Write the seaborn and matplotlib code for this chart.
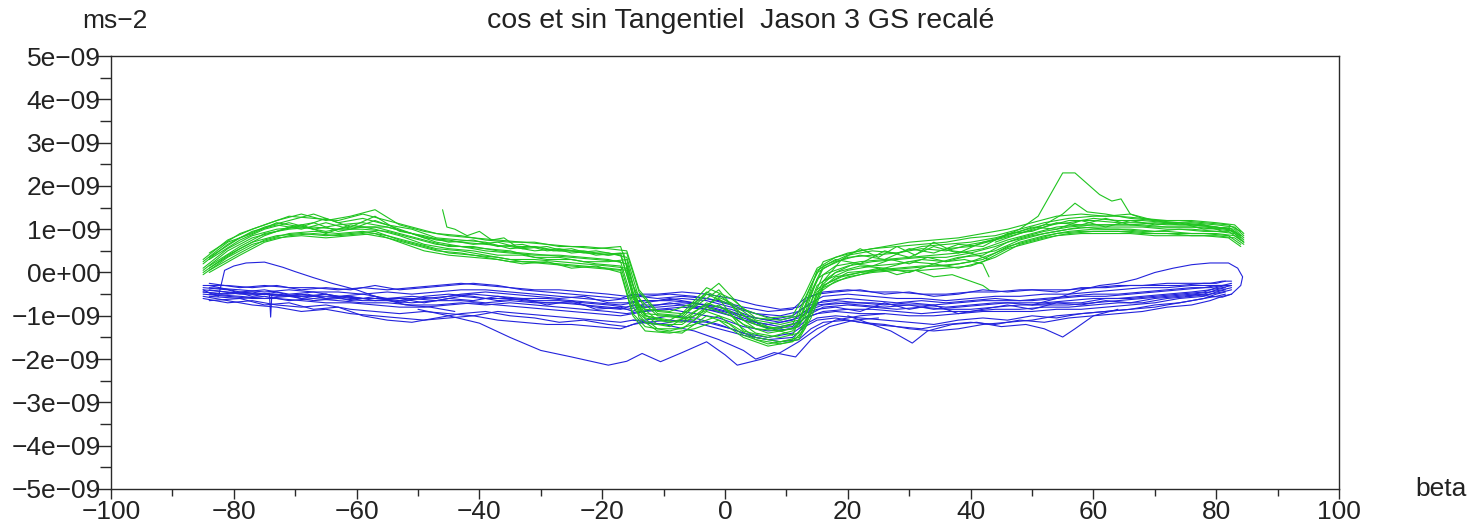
import numpy as np
import pandas as pd
import matplotlib
matplotlib.use("Agg")
import matplotlib.pyplot as plt
from matplotlib.ticker import MultipleLocator, FuncFormatter
import seaborn as sns

# ---------------- data (values in units of 1e-9 m/s^2) ----------------
XG_A = [-85, -81, -77, -73, -69, -65, -61, -57, -53, -49, -45, -41, -37, -33, -29, -25, -21, -17, -15, -13,
        -9, -5, -1, 3, 7, 11, 13, 15, 18, 22, 26, 30, 34, 38, 42, 46, 50, 54, 58, 62, 66, 70, 74, 78, 82, 84]
XG_B = [-84, -79, -75, -71, -67, -63, -59, -55, -51, -47, -43, -39, -35, -31, -27, -23, -19, -16, -14, -11,
        -7, -3, 1, 5, 9, 12, 14, 16, 20, 24, 28, 32, 36, 40, 44, 48, 52, 56, 60, 64, 68, 72, 76, 80, 83, 84.5]
XB_A = [-85, -81, -77, -73, -69, -65, -61, -57, -53, -49, -45, -41, -37, -33, -29, -25, -21, -17, -15, -13,
        -9, -5, -1, 3, 7, 11, 13, 15, 18, 22, 26, 30, 34, 38, 42, 46, 50, 54, 58, 62, 66, 70, 74, 78, 80, 81.5]
XB_B = [-84, -79, -75, -71, -67, -63, -59, -55, -51, -47, -43, -39, -35, -31, -27, -23, -19, -16, -14, -11,
        -7, -3, 1, 5, 9, 12, 14, 16, 20, 24, 28, 32, 36, 40, 44, 48, 52, 56, 60, 64, 68, 72, 76, 79, 81, 82.5]

# green (sin) curves
GA1 = [0.3, 0.75, 1.0, 1.2, 1.35, 1.2, 1.3, 1.45, 1.1, 0.95, 0.85, 0.8, 0.75, 0.7, 0.65, 0.6, 0.55, 0.6, -0.3, -0.85,
       -0.9, -0.7, -0.25, -0.85, -1.05, -1.0, -0.5, 0.1, 0.35, 0.5, 0.6, 0.7, 0.75, 0.8, 0.9, 1.0, 1.15, 1.3, 1.35, 1.3,
       1.35, 1.2, 1.2, 1.15, 1.1, 0.95]
GA2 = [0.1, 0.55, 0.85, 1.0, 1.05, 0.95, 1.05, 1.05, 0.9, 0.75, 0.6, 0.6, 0.5, 0.45, 0.4, 0.35, 0.3, 0.25, -0.7, -1.05,
       -1.15, -1.0, -0.75, -1.2, -1.4, -1.3, -0.95, -0.15, 0.15, 0.25, 0.3, 0.35, 0.4, 0.45, 0.55, 0.75, 0.9, 1.05, 1.1,
       1.1, 1.1, 1.05, 1.05, 1.05, 1.0, 0.8]
GA3 = [0.0, 0.4, 0.7, 0.85, 0.9, 0.85, 0.9, 0.95, 0.75, 0.6, 0.45, 0.4, 0.35, 0.25, 0.2, 0.15, 0.1, 0.05, -0.95, -1.25,
       -1.35, -1.2, -1.0, -1.45, -1.65, -1.55, -1.2, -0.45, -0.1, 0.0, 0.05, 0.1, 0.15, 0.2, 0.3, 0.6, 0.75, 0.9, 0.95,
       0.95, 0.95, 0.9, 0.9, 0.9, 0.85, 0.65]
GA4 = [0.2, 0.65, 0.95, 1.1, 1.0, 1.15, 1.0, 1.2, 1.0, 0.8, 0.75, 0.65, 0.7, 0.55, 0.6, 0.45, 0.5, 0.4, -0.5, -0.95,
       -1.0, -1.1, -0.5, -1.0, -1.25, -1.45, -0.8, 0.05, 0.3, 0.2, 0.5, 0.35, 0.6, 0.45, 0.7, 0.85, 1.05, 1.0, 1.2, 1.05,
       1.2, 1.1, 1.15, 1.0, 1.05, 0.85]
GA5 = [0.05, 0.5, 0.8, 0.95, 1.1, 0.9, 1.1, 1.0, 0.85, 0.65, 0.55, 0.5, 0.4, 0.4, 0.3, 0.3, 0.2, 0.15, -0.8, -1.15,
       -1.25, -0.9, -0.6, -1.35, -1.5, -1.35, -1.05, -0.3, 0.0, 0.15, 0.1, 0.25, 0.2, 0.35, 0.4, 0.7, 0.85, 0.95, 1.05,
       1.0, 1.0, 0.95, 1.0, 0.95, 0.95, 0.75]
GA6 = [0.25, 0.7, 0.9, 1.15, 1.05, 1.25, 1.05, 1.3, 0.95, 0.85, 0.7, 0.75, 0.6, 0.65, 0.5, 0.55, 0.4, 0.45, -0.55, -1.0,
       -1.1, -0.8, -0.4, -1.1, -1.3, -1.2, -0.6, 0.0, 0.25, 0.4, 0.3, 0.55, 0.45, 0.65, 0.6, 0.9, 0.95, 1.15, 1.1, 1.25,
       1.1, 1.15, 1.1, 1.1, 1.0, 0.85]
GA7 = [-0.05, 0.35, 0.65, 0.8, 0.85, 0.8, 0.85, 0.9, 0.7, 0.5, 0.4, 0.35, 0.3, 0.2, 0.25, 0.1, 0.15, 0.0, -1.0, -1.35,
       -1.4, -1.3, -1.1, -1.5, -1.7, -1.6, -1.3, -0.5, -0.2, -0.05, 0.1, 0.0, 0.2, 0.1, 0.25, 0.55, 0.7, 0.85, 0.9, 0.9,
       0.9, 0.85, 0.85, 0.85, 0.8, 0.6]
GB1 = [0.45, 0.9, 1.1, 1.3, 1.25, 1.2, 1.35, 1.2, 1.05, 0.9, 0.85, 0.75, 0.7, 0.7, 0.6, 0.6, 0.55, 0.5, -0.4, -0.9,
       -0.95, -0.35, -0.6, -1.05, -1.1, -1.0, -0.3, 0.25, 0.45, 0.55, 0.6, 0.65, 0.7, 0.8, 0.85, 1.0, 1.15, 1.25, 1.3,
       1.3, 1.25, 1.2, 1.2, 1.15, 1.1, 0.9]
GB2 = [0.15, 0.6, 0.9, 1.0, 1.05, 1.0, 1.0, 0.95, 0.8, 0.65, 0.6, 0.5, 0.45, 0.4, 0.4, 0.35, 0.3, 0.2, -0.75, -1.1,
       -1.15, -0.7, -0.9, -1.3, -1.35, -1.25, -0.7, -0.05, 0.15, 0.25, 0.3, 0.35, 0.35, 0.45, 0.6, 0.8, 0.95, 1.05, 1.1,
       1.1, 1.1, 1.05, 1.05, 1.0, 0.95, 0.75]
GB3 = [0.05, 0.45, 0.75, 0.9, 0.95, 0.9, 0.95, 0.85, 0.7, 0.55, 0.5, 0.4, 0.3, 0.3, 0.25, 0.2, 0.15, 0.1, -0.95, -1.3,
       -1.3, -0.9, -1.1, -1.5, -1.6, -1.5, -0.95, -0.3, 0.0, 0.05, 0.1, 0.15, 0.15, 0.25, 0.45, 0.7, 0.85, 0.95, 1.0,
       1.0, 0.95, 0.95, 0.9, 0.9, 0.85, 0.7]
GB4 = [0.3, 0.75, 1.0, 1.15, 1.0, 1.1, 1.15, 1.05, 0.9, 0.75, 0.7, 0.65, 0.6, 0.5, 0.55, 0.45, 0.45, 0.35, -0.6, -1.0,
       -1.05, -0.5, -0.75, -1.2, -1.3, -1.15, -0.5, 0.1, 0.35, 0.4, 0.45, 0.55, 0.5, 0.65, 0.75, 0.9, 1.05, 1.2, 1.2,
       1.15, 1.15, 1.1, 1.1, 1.05, 1.0, 0.8]
GB5 = [0.1, 0.55, 0.85, 1.05, 1.15, 0.95, 1.05, 1.05, 0.9, 0.7, 0.6, 0.55, 0.5, 0.35, 0.35, 0.25, 0.25, 0.3, -0.85, -1.2,
       -1.2, -0.8, -1.0, -1.4, -1.5, -1.4, -0.85, -0.2, 0.05, 0.15, 0.2, 0.3, 0.25, 0.4, 0.5, 0.75, 0.9, 1.0, 1.05,
       1.05, 1.05, 1.0, 1.0, 0.95, 0.9, 0.7]
GB6 = [0.35, 0.8, 1.05, 1.2, 1.35, 1.15, 1.25, 1.1, 1.0, 0.8, 0.75, 0.7, 0.55, 0.6, 0.5, 0.5, 0.4, 0.45, -0.45, -0.95,
       -1.0, -0.45, -0.7, -1.1, -1.2, -1.1, -0.45, 0.15, 0.4, 0.5, 0.45, 0.6, 0.65, 0.7, 0.8, 0.95, 1.1, 1.15, 1.25,
       1.2, 1.2, 1.15, 1.15, 1.1, 1.05, 0.85]
GB7 = [0.0, 0.4, 0.7, 0.85, 0.9, 0.85, 0.9, 0.8, 0.65, 0.5, 0.45, 0.35, 0.25, 0.25, 0.2, 0.15, 0.1, 0.05, -1.05, -1.35,
       -1.4, -1.0, -1.2, -1.55, -1.65, -1.55, -1.05, -0.35, -0.1, 0.0, 0.05, 0.05, 0.1, 0.15, 0.35, 0.65, 0.8, 0.9,
       0.95, 0.95, 0.9, 0.9, 0.85, 0.85, 0.8, 0.65]

GP1_X = [-46, -45.3, -44, -42, -40, -38, -36, -34, -31, -28, -25, -22, -19, -16.5, -15, -13, -10]
GP1_Y = [1.45, 1.05, 1.0, 0.85, 0.95, 0.75, 0.8, 0.6, 0.6, 0.5, 0.5, 0.45, 0.4, 0.45, -0.6, -1.0, -1.1]
GP2_X = [14, 16, 19, 22, 25, 28, 31, 34, 37, 40, 42, 43]
GP2_Y = [-0.9, -0.3, -0.1, 0.0, 0.1, -0.05, 0.05, -0.1, -0.05, -0.2, -0.3, -0.4]
GP3_X = [15, 18, 21, 24, 27, 30, 33, 36, 39, 42, 43]
GP3_Y = [-0.4, 0.0, 0.2, 0.15, 0.3, 0.2, 0.35, 0.25, 0.3, 0.2, -0.1]
GP4_X = [16, 19, 22, 25, 28, 31, 34, 37, 40, 43]
GP4_Y = [-0.2, 0.3, 0.55, 0.35, 0.6, 0.4, 0.7, 0.5, 0.45, 0.3]
GP5_X = [36, 40, 44, 48, 51, 53, 55, 57, 59, 61, 63, 64.5, 66, 68, 72, 76, 80, 83]
GP5_Y = [0.55, 0.6, 0.75, 1.0, 1.3, 1.8, 2.3, 2.3, 2.05, 1.8, 1.65, 1.7, 1.35, 1.25, 1.15, 1.1, 1.05, 0.95]
GP6_X = [44, 48, 52, 55, 57, 59, 62, 66, 70, 74, 78, 81]
GP6_Y = [0.7, 0.9, 1.1, 1.35, 1.6, 1.4, 1.35, 1.25, 1.2, 1.15, 1.1, 0.95]

# blue (cos) curves
BA1 = [-0.3, -0.3, -0.35, -0.3, -0.4, -0.35, -0.4, -0.3, -0.4, -0.35, -0.3, -0.25, -0.3, -0.4, -0.45, -0.5, -0.55, -0.6,
       -0.5, -0.55, -0.5, -0.55, -0.65, -0.8, -0.9, -0.85, -0.6, -0.5, -0.45, -0.4, -0.5, -0.45, -0.55, -0.5, -0.4,
       -0.45, -0.4, -0.45, -0.35, -0.35, -0.3, -0.3, -0.3, -0.25, -0.25, -0.2]
BA2 = [-0.45, -0.5, -0.45, -0.55, -0.5, -0.6, -0.55, -0.65, -0.6, -0.7, -0.6, -0.65, -0.55, -0.65, -0.7, -0.7, -0.8,
       -0.85, -0.75, -0.8, -0.7, -0.8, -0.9, -1.1, -1.2, -1.1, -0.9, -0.75, -0.7, -0.75, -0.8, -0.75, -0.85, -0.8, -0.75,
       -0.7, -0.75, -0.7, -0.7, -0.6, -0.6, -0.55, -0.5, -0.45, -0.35, -0.3]
BA3 = [-0.6, -0.7, -0.65, -0.75, -0.8, -0.75, -0.85, -0.9, -0.95, -0.9, -0.95, -1.0, -0.9, -0.95, -1.0, -1.05, -1.1,
       -1.15, -1.1, -1.1, -1.0, -1.05, -1.2, -1.4, -1.5, -1.4, -1.2, -1.05, -1.0, -1.05, -1.1, -1.15, -1.2, -1.1, -1.05,
       -1.1, -1.0, -1.05, -0.95, -0.9, -0.85, -0.8, -0.7, -0.6, -0.5, -0.45]
BA4 = [-0.35, -0.4, -0.55, -0.45, -0.6, -0.5, -0.65, -0.55, -0.7, -0.55, -0.5, -0.55, -0.65, -0.6, -0.75, -0.65, -0.85,
       -0.8, -0.9, -0.7, -0.6, -0.7, -0.85, -1.0, -1.3, -1.25, -0.95, -0.85, -0.8, -0.9, -0.7, -0.85, -0.75, -0.95,
       -0.85, -0.75, -0.85, -0.7, -0.75, -0.65, -0.7, -0.6, -0.55, -0.5, -0.4, -0.35]
BA5 = [-0.5, -0.55, -0.6, -0.6, -0.65, -0.7, -0.7, -0.75, -0.8, -0.8, -0.75, -0.7, -0.75, -0.8, -0.85, -0.9, -0.95,
       -1.0, -0.95, -0.9, -0.85, -0.95, -1.05, -1.25, -1.35, -1.3, -1.05, -0.95, -0.9, -0.95, -0.95, -1.0, -1.0, -0.95,
       -0.9, -0.9, -0.9, -0.85, -0.85, -0.8, -0.75, -0.7, -0.6, -0.55, -0.45, -0.4]
BA6 = [-0.4, -0.45, -0.5, -0.5, -0.55, -0.5, -0.6, -0.6, -0.65, -0.6, -0.55, -0.5, -0.55, -0.6, -0.6, -0.65, -0.7,
       -0.75, -0.7, -0.65, -0.65, -0.7, -0.8, -1.0, -1.1, -1.0, -0.8, -0.7, -0.65, -0.7, -0.75, -0.7, -0.75, -0.7,
       -0.65, -0.65, -0.65, -0.6, -0.55, -0.55, -0.5, -0.45, -0.4, -0.35, -0.3, -0.3]
BA7 = [-0.55, -0.65, -0.75, -0.8, -0.9, -0.85, -0.95, -1.0, -1.05, -1.1, -1.05, -1.0, -1.1, -1.15, -1.2, -1.2, -1.25,
       -1.3, -1.2, -1.15, -1.1, -1.15, -1.3, -1.45, -1.55, -1.5, -1.25, -1.1, -1.05, -1.15, -1.2, -1.3, -1.35, -1.3,
       -1.2, -1.15, -1.1, -1.0, -0.95, -0.9, -0.85, -0.75, -0.7, -0.6, -0.55, -0.5]
BB1 = [-0.35, -0.4, -0.45, -0.4, -0.45, -0.45, -0.5, -0.45, -0.5, -0.45, -0.4, -0.4, -0.45, -0.5, -0.55, -0.6, -0.65,
       -0.6, -0.55, -0.6, -0.55, -0.6, -0.75, -0.95, -1.0, -0.9, -0.7, -0.55, -0.5, -0.55, -0.6, -0.6, -0.65, -0.6,
       -0.55, -0.55, -0.5, -0.5, -0.45, -0.4, -0.35, -0.35, -0.3, -0.3, -0.3, -0.25]
BB2 = [-0.55, -0.6, -0.55, -0.65, -0.6, -0.65, -0.7, -0.7, -0.75, -0.75, -0.7, -0.75, -0.7, -0.75, -0.8, -0.85, -0.9,
       -0.95, -0.9, -0.85, -0.8, -0.85, -1.0, -1.2, -1.35, -1.25, -1.0, -0.9, -0.85, -0.85, -0.9, -0.95, -0.9, -0.9,
       -0.85, -0.85, -0.8, -0.8, -0.75, -0.7, -0.7, -0.6, -0.55, -0.5, -0.45, -0.4]
BB3 = [-0.4, -0.5, -0.5, -0.55, -0.55, -0.55, -0.6, -0.6, -0.6, -0.65, -0.55, -0.6, -0.6, -0.65, -0.65, -0.7, -0.75,
       -0.8, -0.75, -0.75, -0.7, -0.75, -0.85, -1.05, -1.15, -1.05, -0.85, -0.75, -0.7, -0.7, -0.75, -0.75, -0.8, -0.75,
       -0.7, -0.7, -0.7, -0.65, -0.6, -0.6, -0.55, -0.5, -0.45, -0.4, -0.35, -0.3]
BB4 = [-0.65, -0.6, -0.75, -0.7, -0.85, -0.8, -1.0, -1.1, -1.15, -1.05, -0.95, -0.9, -1.0, -1.05, -1.15, -1.1, -1.2,
       -1.25, -1.15, -1.2, -1.1, -1.15, -1.3, -1.5, -1.6, -1.55, -1.3, -1.15, -1.1, -1.2, -1.25, -1.3, -1.2, -1.15, -1.2,
       -1.1, -1.15, -1.05, -1.0, -0.95, -0.9, -0.8, -0.75, -0.65, -0.55, -0.5]
BB5 = [-0.3, -0.45, -0.4, -0.5, -0.45, -0.55, -0.5, -0.6, -0.55, -0.6, -0.5, -0.45, -0.5, -0.55, -0.6, -0.55, -0.7,
       -0.7, -0.65, -0.65, -0.6, -0.65, -0.8, -0.95, -1.1, -1.0, -0.8, -0.65, -0.6, -0.65, -0.7, -0.65, -0.7, -0.65,
       -0.6, -0.65, -0.6, -0.55, -0.5, -0.5, -0.45, -0.4, -0.35, -0.35, -0.3, -0.3]
BB6 = [-0.5, -0.55, -0.6, -0.55, -0.65, -0.6, -0.65, -0.65, -0.7, -0.65, -0.65, -0.7, -0.65, -0.7, -0.7, -0.75, -0.8,
       -0.85, -0.8, -0.8, -0.75, -0.8, -0.95, -1.15, -1.25, -1.15, -0.95, -0.8, -0.75, -0.8, -0.85, -0.8, -0.85, -0.85,
       -0.8, -0.75, -0.75, -0.75, -0.7, -0.65, -0.6, -0.55, -0.5, -0.45, -0.4, -0.35]
BB7 = [-0.25, -0.35, -0.3, -0.35, -0.35, -0.4, -0.35, -0.4, -0.35, -0.3, -0.25, -0.3, -0.35, -0.4, -0.4, -0.45, -0.5,
       -0.55, -0.5, -0.5, -0.45, -0.5, -0.6, -0.75, -0.85, -0.8, -0.55, -0.45, -0.4, -0.45, -0.45, -0.5, -0.5, -0.45,
       -0.45, -0.4, -0.4, -0.4, -0.35, -0.3, -0.3, -0.25, -0.25, -0.25, -0.2, -0.2]

BL1_X = [-50, -45, -40, -35, -30, -25, -19, -16, -13.5, -10.5, -7, -3, 0, 2, 6, 9, 12, 15, 18, 22, 26]
BL1_Y = [-0.85, -1.0, -1.17, -1.5, -1.8, -1.95, -2.14, -2.05, -1.87, -2.06, -1.85, -1.6, -1.9, -2.14, -2.0, -1.85,
         -1.6, -1.3, -1.1, -1.0, -0.95]
BL2_X = [-15, -10, -5, -1, 3, 5, 8, 11.5, 14, 17, 21, 25]
BL2_Y = [-1.1, -1.2, -1.35, -1.55, -1.8, -2.0, -1.85, -1.95, -1.55, -1.25, -1.1, -1.05]
BL3_X = [20, 24, 27, 30.5, 33, 37, 41, 45, 49, 52, 55, 57, 60, 64]
BL3_Y = [-1.0, -1.2, -1.35, -1.63, -1.35, -1.2, -1.15, -1.25, -1.2, -1.3, -1.49, -1.3, -1.0, -0.85]
BLOOP_X = [-85, -83.5, -82.5, -82, -81.5, -80, -78, -75, -72, -70, -67, -64, -60, -56, -52, -48, -44]
BLOOP_Y = [-0.4, -0.5, -0.55, -0.25, 0.05, 0.15, 0.22, 0.24, 0.12, 0.02, -0.12, -0.25, -0.4, -0.6, -0.75, -0.8, -0.9]
BSPK_X = [-85, -82, -79, -76, -74.2, -74, -73.8, -71, -68, -65, -62, -59]
BSPK_Y = [-0.45, -0.5, -0.45, -0.5, -0.48, -1.03, -0.5, -0.55, -0.5, -0.6, -0.55, -0.6]
BRL_X = [50, 54, 58, 61, 64, 67, 70, 73, 76, 79, 82, 83.5, 84.3, 84, 82.5, 81, 79, 77, 75]
BRL_Y = [-0.75, -0.6, -0.4, -0.3, -0.25, -0.15, 0.0, 0.1, 0.18, 0.22, 0.22, 0.1, -0.1, -0.3, -0.5, -0.57, -0.55,
         -0.5, -0.55]

GREEN = [(XG_A, GA1), (XG_A, GA2), (XG_A, GA3), (XG_A, GA4), (XG_A, GA5), (XG_A, GA6), (XG_A, GA7),
         (XG_B, GB1), (XG_B, GB2), (XG_B, GB3), (XG_B, GB4), (XG_B, GB5), (XG_B, GB6), (XG_B, GB7),
         (GP1_X, GP1_Y), (GP2_X, GP2_Y), (GP3_X, GP3_Y), (GP4_X, GP4_Y), (GP5_X, GP5_Y), (GP6_X, GP6_Y)]
BLUE = [(XB_A, BA1), (XB_A, BA2), (XB_A, BA3), (XB_A, BA4), (XB_A, BA5), (XB_A, BA6), (XB_A, BA7),
        (XB_B, BB1), (XB_B, BB2), (XB_B, BB3), (XB_B, BB4), (XB_B, BB5), (XB_B, BB6), (XB_B, BB7),
        (BL1_X, BL1_Y), (BL2_X, BL2_Y), (BL3_X, BL3_Y), (BLOOP_X, BLOOP_Y), (BSPK_X, BSPK_Y), (BRL_X, BRL_Y)]

UNIT = 1e-9


def to_frame(curves):
    rows = []
    for i, (xs, ys) in enumerate(curves):
        for k, (x, y) in enumerate(zip(xs, ys)):
            rows.append({"beta": x, "acc": y * UNIT, "curve": i, "order": k})
    return pd.DataFrame(rows)


df_blue = to_frame(BLUE)
df_green = to_frame(GREEN)


def fmt_y(v, p):
    n = int(round(v / UNIT))
    return f"{n * UNIT:.0e}".replace("-", "\u2212")


# ---------------- figure ----------------
sns.set_style("white")
plt.rcParams["font.family"] = ["Liberation Sans", "DejaVu Sans"]
plt.rcParams["axes.unicode_minus"] = True

fig = plt.figure(figsize=(14.75, 5.31), dpi=100)
ax = fig.add_axes([111 / 1475, 1 - 489 / 531, (1339 - 111) / 1475, (489 - 56) / 531])

sns.lineplot(data=df_blue, x="beta", y="acc", units="curve", estimator=None, sort=False,
             color="#2323dc", lw=0.8, ax=ax, legend=False)
sns.lineplot(data=df_green, x="beta", y="acc", units="curve", estimator=None, sort=False,
             color="#1fc41f", lw=0.8, ax=ax, legend=False)

ax.set_xlim(-100, 100)
ax.set_ylim(-5 * UNIT, 5 * UNIT)
ax.set_xlabel("")
ax.set_ylabel("")

ax.xaxis.set_major_locator(MultipleLocator(20))
ax.xaxis.set_minor_locator(MultipleLocator(10))
ax.yaxis.set_major_locator(MultipleLocator(UNIT))
ax.yaxis.set_minor_locator(MultipleLocator(0.5 * UNIT))
ax.xaxis.set_major_formatter(FuncFormatter(lambda v, p: f"{v:.0f}".replace("-", "\u2212")))
ax.yaxis.set_major_formatter(FuncFormatter(fmt_y))
ax.yaxis.offsetText.set_visible(False)
ax.xaxis.offsetText.set_visible(False)

axcol = "#2a2a2a"
for s in ax.spines.values():
    s.set_color(axcol)
    s.set_linewidth(1.0)
ax.tick_params(axis="x", which="major", direction="out", length=7, width=1, color=axcol,
               labelsize=19, pad=1.0, bottom=True, top=False)
ax.tick_params(axis="x", which="minor", direction="out", length=5, width=1, color=axcol, bottom=True, top=False)
ax.tick_params(axis="y", which="major", direction="out", length=10, width=1, color=axcol,
               labelsize=19, pad=-2.5, left=True, right=False)
ax.tick_params(axis="y", which="minor", direction="out", length=8, width=1, color=axcol, left=True, right=False)
for lab in ax.get_yticklabels() + ax.get_xticklabels():
    lab.set_color("#222222")

fig.text(115 / 1475, 1 - 28 / 531, "ms\u22122", ha="center", va="baseline", fontsize=19, color="#222222")
fig.text(741 / 1475, 1 - 28 / 531, "cos et sin Tangentiel  Jason 3 GS recalé", ha="center", va="baseline",
         fontsize=20.5, color="#222222")
fig.text(1441 / 1475, 1 - 496 / 531, "beta", ha="center", va="baseline", fontsize=19, color="#222222")

fig.savefig("out.png", dpi=100, facecolor="white")
